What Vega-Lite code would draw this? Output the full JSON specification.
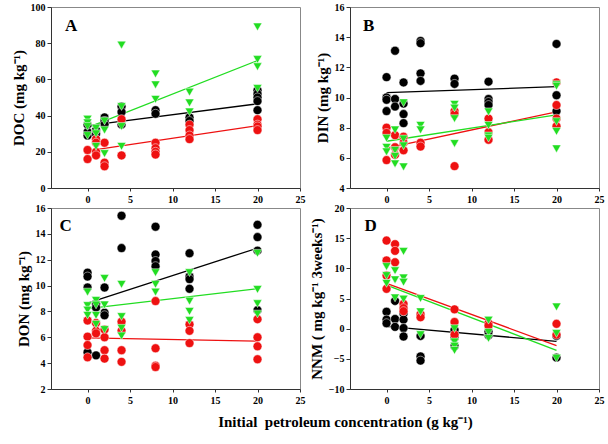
{
  "$schema": "https://vega.github.io/schema/vega-lite/v6.json",
  "padding": {"left": 10, "top": 1, "right": 4, "bottom": 4},
  "background": "white",
  "title": {"text": "Initial\u00a0 petroleum concentration (g kg⁻¹)", "orient": "bottom", "anchor": "middle", "font": "Liberation Serif", "fontSize": 15, "fontWeight": "bold", "color": "#000", "offset": 9, "dx": 38},
  "datasets": {
    "pts": [
      {"p":"A","g":"k","x":0,"y":29},{"p":"A","g":"k","x":0,"y":31},{"p":"A","g":"k","x":0,"y":35},
      {"p":"A","g":"k","x":1,"y":30},{"p":"A","g":"k","x":1,"y":32},
      {"p":"A","g":"k","x":2,"y":39},{"p":"A","g":"k","x":2,"y":37},{"p":"A","g":"k","x":2,"y":35},
      {"p":"A","g":"k","x":4,"y":45},{"p":"A","g":"k","x":4,"y":42},{"p":"A","g":"k","x":4,"y":35},
      {"p":"A","g":"k","x":8,"y":43},{"p":"A","g":"k","x":8,"y":41},
      {"p":"A","g":"k","x":12,"y":39},{"p":"A","g":"k","x":12,"y":37},
      {"p":"A","g":"k","x":20,"y":54},{"p":"A","g":"k","x":20,"y":52},{"p":"A","g":"k","x":20,"y":50},{"p":"A","g":"k","x":20,"y":48},{"p":"A","g":"k","x":20,"y":43},
      {"p":"A","g":"r","x":0,"y":21},{"p":"A","g":"r","x":0,"y":16},
      {"p":"A","g":"r","x":1,"y":27},{"p":"A","g":"r","x":1,"y":25},{"p":"A","g":"r","x":1,"y":20},{"p":"A","g":"r","x":1,"y":18},
      {"p":"A","g":"r","x":2,"y":25},{"p":"A","g":"r","x":2,"y":14},{"p":"A","g":"r","x":2,"y":12},
      {"p":"A","g":"r","x":4,"y":38},{"p":"A","g":"r","x":4,"y":18},
      {"p":"A","g":"r","x":8,"y":25},{"p":"A","g":"r","x":8,"y":22},{"p":"A","g":"r","x":8,"y":20},{"p":"A","g":"r","x":8,"y":18.5},
      {"p":"A","g":"r","x":12,"y":35},{"p":"A","g":"r","x":12,"y":32},{"p":"A","g":"r","x":12,"y":29},{"p":"A","g":"r","x":12,"y":27},
      {"p":"A","g":"r","x":20,"y":38},{"p":"A","g":"r","x":20,"y":35},{"p":"A","g":"r","x":20,"y":34},{"p":"A","g":"r","x":20,"y":32},
      {"p":"A","g":"g","x":0,"y":38},{"p":"A","g":"g","x":0,"y":36},{"p":"A","g":"g","x":0,"y":34},{"p":"A","g":"g","x":0,"y":29},
      {"p":"A","g":"g","x":1,"y":33},{"p":"A","g":"g","x":1,"y":30},{"p":"A","g":"g","x":1,"y":23},
      {"p":"A","g":"g","x":2,"y":37},{"p":"A","g":"g","x":2,"y":32},{"p":"A","g":"g","x":2,"y":19},
      {"p":"A","g":"g","x":4,"y":79},{"p":"A","g":"g","x":4,"y":45},{"p":"A","g":"g","x":4,"y":34},{"p":"A","g":"g","x":4,"y":23},
      {"p":"A","g":"g","x":8,"y":63},{"p":"A","g":"g","x":8,"y":57},{"p":"A","g":"g","x":8,"y":49},
      {"p":"A","g":"g","x":12,"y":53},{"p":"A","g":"g","x":12,"y":47},{"p":"A","g":"g","x":12,"y":42},
      {"p":"A","g":"g","x":20,"y":89},{"p":"A","g":"g","x":20,"y":71},{"p":"A","g":"g","x":20,"y":67},{"p":"A","g":"g","x":20,"y":55},

      {"p":"B","g":"k","x":0,"y":11.35},{"p":"B","g":"k","x":0,"y":10.0},{"p":"B","g":"k","x":0,"y":9.85},{"p":"B","g":"k","x":0,"y":9.1},
      {"p":"B","g":"k","x":1,"y":13.1},{"p":"B","g":"k","x":1,"y":9.9},{"p":"B","g":"k","x":1,"y":9.4},
      {"p":"B","g":"k","x":2,"y":11.0},{"p":"B","g":"k","x":2,"y":9.6},{"p":"B","g":"k","x":2,"y":8.9},{"p":"B","g":"k","x":2,"y":8.3},
      {"p":"B","g":"k","x":4,"y":13.75},{"p":"B","g":"k","x":4,"y":13.6},{"p":"B","g":"k","x":4,"y":11.6},{"p":"B","g":"k","x":4,"y":11.1},
      {"p":"B","g":"k","x":8,"y":11.25},{"p":"B","g":"k","x":8,"y":10.9},
      {"p":"B","g":"k","x":12,"y":11.05},{"p":"B","g":"k","x":12,"y":9.9},{"p":"B","g":"k","x":12,"y":9.7},{"p":"B","g":"k","x":12,"y":9.5},
      {"p":"B","g":"k","x":20,"y":13.55},{"p":"B","g":"k","x":20,"y":10.15},{"p":"B","g":"k","x":20,"y":9.1},
      {"p":"B","g":"r","x":0,"y":8.0},{"p":"B","g":"r","x":0,"y":7.65},{"p":"B","g":"r","x":0,"y":5.85},
      {"p":"B","g":"r","x":1,"y":7.5},{"p":"B","g":"r","x":1,"y":6.7},{"p":"B","g":"r","x":1,"y":6.2},
      {"p":"B","g":"r","x":2,"y":7.4},{"p":"B","g":"r","x":2,"y":7.0},{"p":"B","g":"r","x":2,"y":6.5},
      {"p":"B","g":"r","x":4,"y":7.0},{"p":"B","g":"r","x":4,"y":6.75},
      {"p":"B","g":"r","x":8,"y":9.1},{"p":"B","g":"r","x":8,"y":8.9},{"p":"B","g":"r","x":8,"y":5.45},
      {"p":"B","g":"r","x":12,"y":8.6},{"p":"B","g":"r","x":12,"y":7.7},{"p":"B","g":"r","x":12,"y":7.2},
      {"p":"B","g":"r","x":20,"y":11.0},{"p":"B","g":"r","x":20,"y":9.5},{"p":"B","g":"r","x":20,"y":8.6},{"p":"B","g":"r","x":20,"y":8.1},
      {"p":"B","g":"g","x":0,"y":7.3},{"p":"B","g":"g","x":0,"y":6.7},{"p":"B","g":"g","x":0,"y":6.4},
      {"p":"B","g":"g","x":1,"y":7.85},{"p":"B","g":"g","x":1,"y":6.5},{"p":"B","g":"g","x":1,"y":6.1},{"p":"B","g":"g","x":1,"y":5.6},
      {"p":"B","g":"g","x":2,"y":9.65},{"p":"B","g":"g","x":2,"y":7.25},{"p":"B","g":"g","x":2,"y":6.8},{"p":"B","g":"g","x":2,"y":5.4},
      {"p":"B","g":"g","x":4,"y":8.15},{"p":"B","g":"g","x":4,"y":7.85},
      {"p":"B","g":"g","x":8,"y":9.55},{"p":"B","g":"g","x":8,"y":9.3},{"p":"B","g":"g","x":8,"y":8.6},{"p":"B","g":"g","x":8,"y":6.95},
      {"p":"B","g":"g","x":12,"y":9.05},{"p":"B","g":"g","x":12,"y":8.15},{"p":"B","g":"g","x":12,"y":7.45},{"p":"B","g":"g","x":12,"y":7.3},
      {"p":"B","g":"g","x":20,"y":10.85},{"p":"B","g":"g","x":20,"y":10.75},{"p":"B","g":"g","x":20,"y":8.4},{"p":"B","g":"g","x":20,"y":7.75},{"p":"B","g":"g","x":20,"y":6.6},

      {"p":"C","g":"k","x":0,"y":11.0},{"p":"C","g":"k","x":0,"y":10.7},{"p":"C","g":"k","x":0,"y":9.85},{"p":"C","g":"k","x":0,"y":4.85},
      {"p":"C","g":"k","x":1,"y":8.6},{"p":"C","g":"k","x":1,"y":8.3},{"p":"C","g":"k","x":1,"y":4.6},
      {"p":"C","g":"k","x":2,"y":9.85},{"p":"C","g":"k","x":2,"y":7.9},{"p":"C","g":"k","x":2,"y":7.7},
      {"p":"C","g":"k","x":4,"y":15.4},{"p":"C","g":"k","x":4,"y":12.9},
      {"p":"C","g":"k","x":8,"y":14.55},{"p":"C","g":"k","x":8,"y":12.4},{"p":"C","g":"k","x":8,"y":11.9},{"p":"C","g":"k","x":8,"y":11.5},
      {"p":"C","g":"k","x":12,"y":12.5},{"p":"C","g":"k","x":12,"y":10.7},{"p":"C","g":"k","x":12,"y":10.5},{"p":"C","g":"k","x":12,"y":9.75},
      {"p":"C","g":"k","x":20,"y":14.7},{"p":"C","g":"k","x":20,"y":13.75},{"p":"C","g":"k","x":20,"y":12.7},{"p":"C","g":"k","x":20,"y":8.1},
      {"p":"C","g":"r","x":0,"y":7.3},{"p":"C","g":"r","x":0,"y":6.05},{"p":"C","g":"r","x":0,"y":5.4},{"p":"C","g":"r","x":0,"y":4.45},
      {"p":"C","g":"r","x":1,"y":7.1},{"p":"C","g":"r","x":1,"y":6.5},{"p":"C","g":"r","x":1,"y":6.3},
      {"p":"C","g":"r","x":2,"y":6.6},{"p":"C","g":"r","x":2,"y":6.0},{"p":"C","g":"r","x":2,"y":5.0},{"p":"C","g":"r","x":2,"y":4.35},
      {"p":"C","g":"r","x":4,"y":7.2},{"p":"C","g":"r","x":4,"y":6.5},{"p":"C","g":"r","x":4,"y":5.0},{"p":"C","g":"r","x":4,"y":4.1},
      {"p":"C","g":"r","x":8,"y":8.8},{"p":"C","g":"r","x":8,"y":5.15},{"p":"C","g":"r","x":8,"y":3.8},{"p":"C","g":"r","x":8,"y":3.7},
      {"p":"C","g":"r","x":12,"y":7.0},{"p":"C","g":"r","x":12,"y":6.5},{"p":"C","g":"r","x":12,"y":5.55},
      {"p":"C","g":"r","x":20,"y":7.4},{"p":"C","g":"r","x":20,"y":6.0},{"p":"C","g":"r","x":20,"y":5.3},{"p":"C","g":"r","x":20,"y":4.3},
      {"p":"C","g":"g","x":0,"y":9.5},{"p":"C","g":"g","x":0,"y":8.45},{"p":"C","g":"g","x":0,"y":8.1},{"p":"C","g":"g","x":0,"y":7.7},
      {"p":"C","g":"g","x":1,"y":8.85},{"p":"C","g":"g","x":1,"y":8.5},{"p":"C","g":"g","x":1,"y":7.7},{"p":"C","g":"g","x":1,"y":7.0},
      {"p":"C","g":"g","x":2,"y":10.55},{"p":"C","g":"g","x":2,"y":8.5},{"p":"C","g":"g","x":2,"y":6.6},
      {"p":"C","g":"g","x":4,"y":10.1},{"p":"C","g":"g","x":4,"y":7.6},{"p":"C","g":"g","x":4,"y":6.7},{"p":"C","g":"g","x":4,"y":6.1},
      {"p":"C","g":"g","x":8,"y":11.0},{"p":"C","g":"g","x":8,"y":10.1},{"p":"C","g":"g","x":8,"y":9.5},
      {"p":"C","g":"g","x":12,"y":11.0},{"p":"C","g":"g","x":12,"y":8.8},{"p":"C","g":"g","x":12,"y":8.0},{"p":"C","g":"g","x":12,"y":7.3},
      {"p":"C","g":"g","x":20,"y":12.5},{"p":"C","g":"g","x":20,"y":9.7},{"p":"C","g":"g","x":20,"y":8.6},{"p":"C","g":"g","x":20,"y":7.8},

      {"p":"D","g":"k","x":0,"y":2.8},{"p":"D","g":"k","x":0,"y":1.5},{"p":"D","g":"k","x":0,"y":0.9},
      {"p":"D","g":"k","x":1,"y":4.6},{"p":"D","g":"k","x":1,"y":1.6},{"p":"D","g":"k","x":1,"y":0.3},
      {"p":"D","g":"k","x":2,"y":2.5},{"p":"D","g":"k","x":2,"y":1.5},{"p":"D","g":"k","x":2,"y":0.1},{"p":"D","g":"k","x":2,"y":-1.3},
      {"p":"D","g":"k","x":4,"y":-1.2},{"p":"D","g":"k","x":4,"y":-4.6},{"p":"D","g":"k","x":4,"y":-5.3},
      {"p":"D","g":"k","x":8,"y":-0.2},{"p":"D","g":"k","x":8,"y":-1.5},{"p":"D","g":"k","x":8,"y":-2.9},
      {"p":"D","g":"k","x":12,"y":-0.5},{"p":"D","g":"k","x":12,"y":-1.1},
      {"p":"D","g":"k","x":20,"y":-1.2},{"p":"D","g":"k","x":20,"y":-4.8},
      {"p":"D","g":"r","x":0,"y":14.6},{"p":"D","g":"r","x":0,"y":11.3},{"p":"D","g":"r","x":0,"y":8.8},{"p":"D","g":"r","x":0,"y":6.6},
      {"p":"D","g":"r","x":1,"y":14.0},{"p":"D","g":"r","x":1,"y":12.9},{"p":"D","g":"r","x":1,"y":11.0},
      {"p":"D","g":"r","x":2,"y":4.1},{"p":"D","g":"r","x":2,"y":3.4},{"p":"D","g":"r","x":2,"y":2.9},
      {"p":"D","g":"r","x":4,"y":2.4},{"p":"D","g":"r","x":4,"y":1.9},
      {"p":"D","g":"r","x":8,"y":3.2},{"p":"D","g":"r","x":8,"y":1.1},{"p":"D","g":"r","x":8,"y":-1.0},
      {"p":"D","g":"r","x":12,"y":0.9},{"p":"D","g":"r","x":12,"y":0.5},
      {"p":"D","g":"r","x":20,"y":0.8},{"p":"D","g":"r","x":20,"y":-1.0},
      {"p":"D","g":"g","x":0,"y":10.3},{"p":"D","g":"g","x":0,"y":8.8},{"p":"D","g":"g","x":0,"y":7.5},
      {"p":"D","g":"g","x":1,"y":9.6},{"p":"D","g":"g","x":1,"y":8.1},{"p":"D","g":"g","x":1,"y":5.1},
      {"p":"D","g":"g","x":2,"y":12.8},{"p":"D","g":"g","x":2,"y":8.4},{"p":"D","g":"g","x":2,"y":7.7},{"p":"D","g":"g","x":2,"y":4.9},
      {"p":"D","g":"g","x":4,"y":5.0},{"p":"D","g":"g","x":4,"y":2.8},{"p":"D","g":"g","x":4,"y":-1.0},
      {"p":"D","g":"g","x":8,"y":0.0},{"p":"D","g":"g","x":8,"y":-2.2},{"p":"D","g":"g","x":8,"y":-2.9},{"p":"D","g":"g","x":8,"y":-3.6},
      {"p":"D","g":"g","x":12,"y":1.4},{"p":"D","g":"g","x":12,"y":-0.6},{"p":"D","g":"g","x":12,"y":-1.6},
      {"p":"D","g":"g","x":20,"y":3.6},{"p":"D","g":"g","x":20,"y":-0.8},{"p":"D","g":"g","x":20,"y":-4.9}
    ],
    "lines": [
      {"p":"A","g":"k","x":0,"y":34.5},{"p":"A","g":"k","x":20,"y":46.5},
      {"p":"A","g":"r","x":0,"y":20.5},{"p":"A","g":"r","x":20,"y":34.4},
      {"p":"A","g":"g","x":0,"y":33.3},{"p":"A","g":"g","x":20,"y":70.4},
      {"p":"B","g":"k","x":0,"y":10.32},{"p":"B","g":"k","x":20,"y":10.72},
      {"p":"B","g":"r","x":0,"y":6.65},{"p":"B","g":"r","x":20,"y":9.05},
      {"p":"B","g":"g","x":0,"y":7.1},{"p":"B","g":"g","x":20,"y":8.85},
      {"p":"C","g":"k","x":0,"y":8.65},{"p":"C","g":"k","x":20,"y":12.9},
      {"p":"C","g":"r","x":0,"y":5.95},{"p":"C","g":"r","x":20,"y":5.7},
      {"p":"C","g":"g","x":0,"y":8.22},{"p":"C","g":"g","x":20,"y":9.76},
      {"p":"D","g":"k","x":0,"y":0.38},{"p":"D","g":"k","x":20,"y":-2.1},
      {"p":"D","g":"r","x":0,"y":7.5},{"p":"D","g":"r","x":20,"y":-2.8},
      {"p":"D","g":"g","x":0,"y":7.23},{"p":"D","g":"g","x":20,"y":-3.6}
    ],
    "labels": [
      {"p":"A","x":-2.65,"y":89.5,"t":"A"},
      {"p":"B","x":-2.77,"y":14.74,"t":"B"},
      {"p":"C","x":-3.3,"y":14.6,"t":"C"},
      {"p":"D","x":-2.6,"y":17.0,"t":"D"}
    ]
  },
  "columns": 2,
  "spacing": {"row": 20, "column": 50},
  "bounds": "flush",
  "concat": [
    {
      "width": 249, "height": 181,
      "encoding": {
        "x": {"field": "x", "type": "quantitative", "scale": {"domain": [-4.3, 25], "nice": false, "zero": false}, "axis": {"values": [0,5,10,15,20,25], "title": null}},
        "y": {"field": "y", "type": "quantitative", "scale": {"domain": [0, 100], "nice": false, "zero": false}, "axis": {"values": [0,20,40,60,80,100], "title": "DOC (mg kg⁻¹)"}}
      },
      "layer": [
        {"data": {"name": "lines"}, "transform": [{"filter": "datum.p === 'A'"}], "mark": {"type": "line", "strokeWidth": 1.3}, "encoding": {"color": {"field": "g", "type": "nominal", "scale": {"domain": ["k","r","g"], "range": ["#000000","#ee1111","#22dd22"]}, "legend": null}}},
        {"data": {"name": "pts"}, "transform": [{"filter": "datum.p === 'A'"}], "mark": {"type": "point", "filled": true, "opacity": 1, "stroke": "white", "strokeWidth": 0.5}, "encoding": {"color": {"field": "g", "type": "nominal", "scale": {"domain": ["k","r","g"], "range": ["#000000","#ee1111","#22dd22"]}, "legend": null}, "shape": {"field": "g", "type": "nominal", "scale": {"domain": ["k","r","g"], "range": ["circle","circle","triangle-down"]}, "legend": null}, "size": {"field": "g", "type": "nominal", "scale": {"domain": ["k","r","g"], "range": [80,80,90]}, "legend": null}}},
        {"data": {"name": "labels"}, "transform": [{"filter": "datum.p === 'A'"}], "mark": {"type": "text", "align": "left", "baseline": "middle", "font": "Liberation Serif", "fontWeight": "bold", "fontSize": 17, "color": "#000"}, "encoding": {"text": {"field": "t"}}}
      ]
    },
    {
      "width": 249, "height": 181,
      "encoding": {
        "x": {"field": "x", "type": "quantitative", "scale": {"domain": [-4.3, 25], "nice": false, "zero": false}, "axis": {"values": [0,5,10,15,20,25], "title": null}},
        "y": {"field": "y", "type": "quantitative", "scale": {"domain": [4, 16], "nice": false, "zero": false}, "axis": {"values": [4,6,8,10,12,14,16], "title": "DIN (mg kg⁻¹)"}}
      },
      "layer": [
        {"data": {"name": "lines"}, "transform": [{"filter": "datum.p === 'B'"}], "mark": {"type": "line", "strokeWidth": 1.3}, "encoding": {"color": {"field": "g", "type": "nominal", "scale": {"domain": ["k","r","g"], "range": ["#000000","#ee1111","#22dd22"]}, "legend": null}}},
        {"data": {"name": "pts"}, "transform": [{"filter": "datum.p === 'B'"}], "mark": {"type": "point", "filled": true, "opacity": 1, "stroke": "white", "strokeWidth": 0.5}, "encoding": {"color": {"field": "g", "type": "nominal", "scale": {"domain": ["k","r","g"], "range": ["#000000","#ee1111","#22dd22"]}, "legend": null}, "shape": {"field": "g", "type": "nominal", "scale": {"domain": ["k","r","g"], "range": ["circle","circle","triangle-down"]}, "legend": null}, "size": {"field": "g", "type": "nominal", "scale": {"domain": ["k","r","g"], "range": [80,80,90]}, "legend": null}}},
        {"data": {"name": "labels"}, "transform": [{"filter": "datum.p === 'B'"}], "mark": {"type": "text", "align": "left", "baseline": "middle", "font": "Liberation Serif", "fontWeight": "bold", "fontSize": 17, "color": "#000"}, "encoding": {"text": {"field": "t"}}}
      ]
    },
    {
      "width": 249, "height": 181,
      "encoding": {
        "x": {"field": "x", "type": "quantitative", "scale": {"domain": [-4.3, 25], "nice": false, "zero": false}, "axis": {"values": [0,5,10,15,20,25], "title": null}},
        "y": {"field": "y", "type": "quantitative", "scale": {"domain": [2, 16], "nice": false, "zero": false}, "axis": {"values": [2,4,6,8,10,12,14,16], "title": "DON (mg kg⁻¹)"}}
      },
      "layer": [
        {"data": {"name": "lines"}, "transform": [{"filter": "datum.p === 'C'"}], "mark": {"type": "line", "strokeWidth": 1.3}, "encoding": {"color": {"field": "g", "type": "nominal", "scale": {"domain": ["k","r","g"], "range": ["#000000","#ee1111","#22dd22"]}, "legend": null}}},
        {"data": {"name": "pts"}, "transform": [{"filter": "datum.p === 'C'"}], "mark": {"type": "point", "filled": true, "opacity": 1, "stroke": "white", "strokeWidth": 0.5}, "encoding": {"color": {"field": "g", "type": "nominal", "scale": {"domain": ["k","r","g"], "range": ["#000000","#ee1111","#22dd22"]}, "legend": null}, "shape": {"field": "g", "type": "nominal", "scale": {"domain": ["k","r","g"], "range": ["circle","circle","triangle-down"]}, "legend": null}, "size": {"field": "g", "type": "nominal", "scale": {"domain": ["k","r","g"], "range": [80,80,90]}, "legend": null}}},
        {"data": {"name": "labels"}, "transform": [{"filter": "datum.p === 'C'"}], "mark": {"type": "text", "align": "left", "baseline": "middle", "font": "Liberation Serif", "fontWeight": "bold", "fontSize": 17, "color": "#000"}, "encoding": {"text": {"field": "t"}}}
      ]
    },
    {
      "width": 249, "height": 181,
      "encoding": {
        "x": {"field": "x", "type": "quantitative", "scale": {"domain": [-4.3, 25], "nice": false, "zero": false}, "axis": {"values": [0,5,10,15,20,25], "title": null}},
        "y": {"field": "y", "type": "quantitative", "scale": {"domain": [-10, 20], "nice": false, "zero": false}, "axis": {"values": [-10,-5,0,5,10,15,20], "title": "NNM ( mg kg⁻¹ 3weeks⁻¹)"}}
      },
      "layer": [
        {"data": {"name": "lines"}, "transform": [{"filter": "datum.p === 'D'"}], "mark": {"type": "line", "strokeWidth": 1.3}, "encoding": {"color": {"field": "g", "type": "nominal", "scale": {"domain": ["k","r","g"], "range": ["#000000","#ee1111","#22dd22"]}, "legend": null}}},
        {"data": {"name": "pts"}, "transform": [{"filter": "datum.p === 'D'"}], "mark": {"type": "point", "filled": true, "opacity": 1, "stroke": "white", "strokeWidth": 0.5}, "encoding": {"color": {"field": "g", "type": "nominal", "scale": {"domain": ["k","r","g"], "range": ["#000000","#ee1111","#22dd22"]}, "legend": null}, "shape": {"field": "g", "type": "nominal", "scale": {"domain": ["k","r","g"], "range": ["circle","circle","triangle-down"]}, "legend": null}, "size": {"field": "g", "type": "nominal", "scale": {"domain": ["k","r","g"], "range": [80,80,90]}, "legend": null}}},
        {"data": {"name": "labels"}, "transform": [{"filter": "datum.p === 'D'"}], "mark": {"type": "text", "align": "left", "baseline": "middle", "font": "Liberation Serif", "fontWeight": "bold", "fontSize": 17, "color": "#000"}, "encoding": {"text": {"field": "t"}}}
      ]
    }
  ],
  "config": {
    "view": {"stroke": "#888888", "strokeWidth": 1},
    "axis": {"grid": false, "labelFont": "Liberation Serif", "labelFontWeight": "bold", "labelFontSize": 10, "labelColor": "#000", "titleFont": "Liberation Serif", "titleFontWeight": "bold", "titleFontSize": 15, "titleColor": "#000", "domainColor": "#333", "tickColor": "#333", "labelFlush": false, "labelOverlap": false},
    "axisY": {"tickSize": 4, "labelPadding": 2, "titlePadding": 4},
    "axisX": {"tickSize": 3, "labelPadding": 3}
  }
}
